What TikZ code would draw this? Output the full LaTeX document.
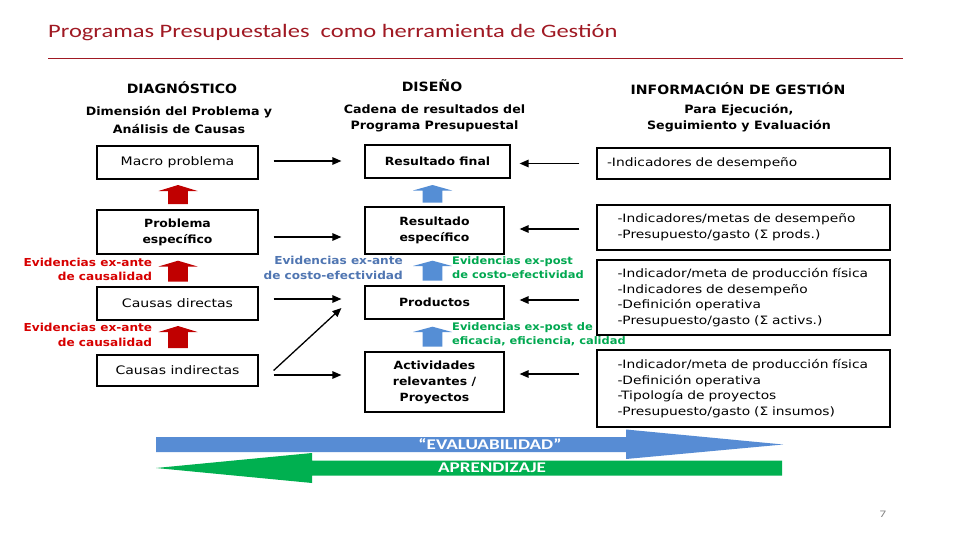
\documentclass[tikz,border=0pt]{standalone}
\usepackage{fontspec}
\usetikzlibrary{arrows.meta}
\newfontfamily\titlefont[FakeStretch=1.29]{Carlito}
\newfontfamily\regfont[FakeStretch=1.2]{DejaVu Sans}
\newfontfamily\boldfont[FakeStretch=1.1]{DejaVu Sans}
\definecolor{titlered}{RGB}{160,25,35}
\definecolor{arrred}{RGB}{192,0,0}
\definecolor{txtred}{RGB}{215,0,0}
\definecolor{arrblue}{RGB}{85,142,213}
\definecolor{txtblue}{RGB}{80,118,178}
\definecolor{txtgreen}{RGB}{0,168,80}
\definecolor{bigblue}{RGB}{87,140,212}
\definecolor{biggreen}{RGB}{0,176,80}
\newcommand\blockup[5]{% cx, apex y, head base y, bottom y, colour
  \fill[#5] (#1,#2) -- (#1+19.5,#3) -- (#1+9.8,#3) -- (#1+9.8,#4) -- (#1-9.8,#4) -- (#1-9.8,#3) -- (#1-19.5,#3) -- cycle;}
\tikzset{
  box/.style={draw=black, line width=1.2pt, inner sep=0pt, align=center,
    font=\regfont\fontsize{11.7}{15}\selectfont},
  bbox/.style={box, font=\boldfont\bfseries\fontsize{11.3}{16}\selectfont},
  ibox/.style={draw=black, line width=1.2pt, inner ysep=0pt, align=left,
    font=\regfont\fontsize{11.5}{15.6}\selectfont},
  hdr/.style={inner sep=0pt, font=\boldfont\bfseries\fontsize{12.8}{15}\selectfont},
  sub/.style={inner sep=0pt, align=center, font=\boldfont\bfseries\fontsize{11.5}{#1}\selectfont},
  evred/.style={inner sep=0pt, align=right, text=txtred, font=\boldfont\bfseries\fontsize{11}{14.5}\selectfont},
  evblue/.style={inner sep=0pt, align=right, text=txtblue, font=\boldfont\bfseries\fontsize{11}{14.5}\selectfont},
  evgreen/.style={inner sep=0pt, align=left, text=txtgreen, font=\boldfont\bfseries\fontsize{10.4}{14}\selectfont},
  arr/.style={line width=1.3pt, -{Triangle[length=9pt,width=7.5pt]}},
  bigtxt/.style={inner sep=0pt, text=white, font=\titlefont\bfseries\fontsize{14.8}{16}\selectfont}
}
\begin{document}
\begin{tikzpicture}[x=1pt,y=-1pt]
\useasboundingbox (0,0) rectangle (960,540);
\fill[white] (0,0) rectangle (960,540);

% title
\node[anchor=base west, inner sep=0pt, text=titlered, font=\titlefont\fontsize{19}{22}\selectfont] (title) at (48,37.7) {Programas Presupuestales~ como herramienta de Gestión};
\draw[titlered, line width=1pt] (48,58.3) -- (903,58.3);

% headers
\node[hdr] (hdiag) at (182,88) {DIAGNÓSTICO};
\node[sub=17.7] (sdiag) at (179,120) {Dimensión del Problema y\\Análisis de Causas};
\node[hdr] (hdis) at (432,86) {DISEÑO};
\node[sub=16] (sdis) at (434.5,118) {Cadena de resultados del\\Programa Presupuestal};
\node[hdr] (hinf) at (738,89) {INFORMACIÓN DE GESTIÓN};
\node[sub=16] (sinf) at (739,118) {Para Ejecución,\\Seguimiento y Evaluación};

% left column
\node[box, minimum width=161pt, minimum height=33pt] (macro) at (177.5,162.5) {Macro problema};
\node[bbox, minimum width=161pt, minimum height=44pt] (prob) at (177.5,232) {Problema\\específico};
\node[box, minimum width=161pt, minimum height=33pt] (cd) at (177.5,303.5) {Causas directas};
\node[box, minimum width=161pt, minimum height=31pt] (ci) at (177.5,370.5) {Causas indirectas};

% middle column
\node[bbox, minimum width=145pt, minimum height=33pt] (rf) at (437.5,161.5) {Resultado final};
\node[bbox, minimum width=139pt, minimum height=47pt] (re) at (434.5,230.5) {Resultado\\específico};
\node[bbox, minimum width=139pt, minimum height=33pt] (prod) at (434.5,302.5) {Productos};
\node[bbox, minimum width=139pt, minimum height=60pt] (act) at (434.5,382) {Actividades\\relevantes /\\Proyectos};

% right column
\node[ibox, inner xsep=10pt, text width=273pt, minimum height=31pt] (i1) at (743.5,163.5) {\mbox{-Indicadores de desempeño}};
\node[ibox, inner xsep=20.5pt, text width=252pt, minimum height=45pt] (i2) at (743.5,227.5) {\mbox{-Indicadores/metas de desempeño}\\\mbox{-Presupuesto/gasto (Σ prods.)}};
\node[ibox, inner xsep=20.5pt, text width=252pt, minimum height=75pt] (i3) at (743.5,297.5) {\mbox{-Indicador/meta de producción física}\\\mbox{-Indicadores de desempeño}\\\mbox{-Definición operativa}\\\mbox{-Presupuesto/gasto (Σ activs.)}};
\node[ibox, inner xsep=20.5pt, text width=252pt, minimum height=77pt] (i4) at (743.5,388.5) {\mbox{-Indicador/meta de producción física}\\\mbox{-Definición operativa}\\\mbox{-Tipología de proyectos}\\\mbox{-Presupuesto/gasto (Σ insumos)}};

% vertical block arrows
\blockup{178}{185}{191}{204}{arrred}
\blockup{178}{260.7}{266.5}{281.7}{arrred}
\blockup{178}{326}{332}{348}{arrred}
\blockup{432.5}{185}{190.5}{202.5}{arrblue}
\blockup{432.5}{260.7}{266}{280.7}{arrblue}
\blockup{432.5}{326.7}{332}{346.7}{arrblue}

% evidence labels
\node[evred, anchor=east] (er1) at (152.3,269.5) {Evidencias ex-ante\\de causalidad};
\node[evred, anchor=east] (er2) at (152.3,335) {Evidencias ex-ante\\de causalidad};
\node[evblue, anchor=east] (eb) at (403,268) {Evidencias ex-ante\\de costo-efectividad};
\node[evgreen, anchor=west] (eg1) at (452,267.5) {Evidencias ex-post\\de costo-efectividad};
\node[evgreen, anchor=west] (eg2) at (452,334) {Evidencias ex-post de\\eficacia, eficiencia, calidad};

% left -> middle arrows
\draw[arr, shorten <=15pt, shorten >=23pt] ([yshift=1.5pt]macro.east) -- ([yshift=1.5pt]macro.east -| rf.west);
\draw[arr, shorten <=15pt, shorten >=23pt] ([yshift=-5pt]prob.east) -- ([yshift=-5pt]prob.east -| re.west);
\draw[arr, shorten <=15pt, shorten >=23pt] ([yshift=4.5pt]cd.east) -- ([yshift=4.5pt]cd.east -| prod.west);
\draw[arr, shorten <=15pt, shorten >=23pt] ([yshift=-4.5pt]ci.east) -- ([yshift=-4.5pt]ci.east -| act.west);
\draw[arr] ([xshift=15pt]ci.east) -- ([xshift=-23pt,yshift=-5.5pt]prod.west);

% right -> middle arrows
\draw[arr, shorten <=17pt, shorten >=9pt] (i1.west) -- (i1.west -| rf.east);
\draw[arr, shorten <=17pt, shorten >=15pt] ([yshift=-1.5pt]i2.west) -- ([yshift=-1.5pt]i2.west -| re.east);
\draw[arr, shorten <=17pt, shorten >=15pt] ([yshift=-2.5pt]i3.west) -- ([yshift=-2.5pt]i3.west -| prod.east);
\draw[arr, shorten <=17pt, shorten >=15pt] ([yshift=8pt]act.east -| i4.west) -- ([yshift=8pt]act.east);

% bottom big arrows
\fill[bigblue] (156,437) -- (626,437) -- (626,429.5) -- (783,444.5) -- (626,459) -- (626,452) -- (156,452) -- cycle;
\fill[biggreen] (782,460.5) -- (312,460.5) -- (312,453) -- (156,468) -- (312,483) -- (312,475.5) -- (782,475.5) -- cycle;
\node[bigtxt] (eval) at (490,444.5) {“EVALUABILIDAD”};
\node[bigtxt] (apr) at (492,468) {APRENDIZAJE};

% page number
\node[inner sep=0pt, text=gray, font=\titlefont\fontsize{10}{12}\selectfont] (pg) at (883,514) {7};
\end{tikzpicture}
\end{document}
